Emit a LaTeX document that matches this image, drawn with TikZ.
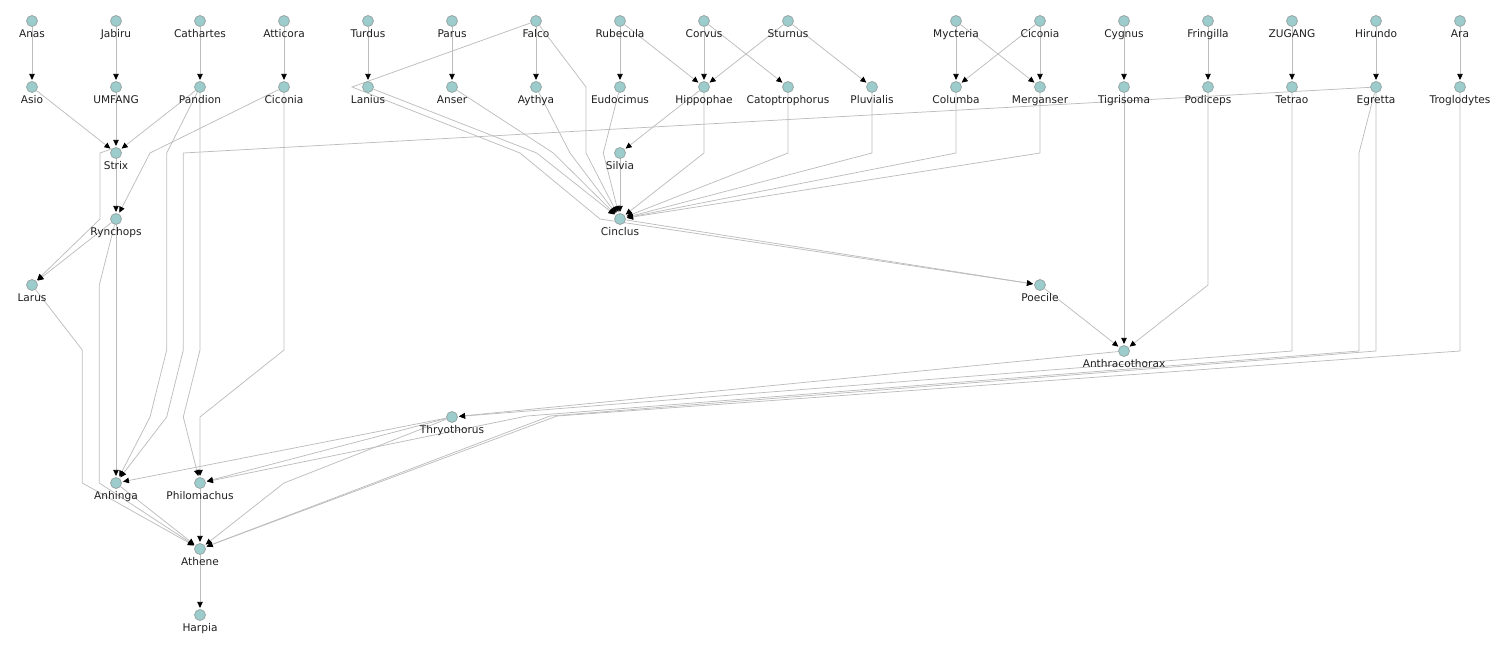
\documentclass[tikz,border=0pt]{standalone}
\usepackage{fontspec}
\setmainfont{DejaVu Sans}
\usetikzlibrary{arrows.meta}
\pgfdeclarelayer{bg}
\pgfsetlayers{bg,main}
\definecolor{nodefill}{HTML}{9CCCCC}
\definecolor{nodeline}{HTML}{9AA6A6}
\definecolor{edgecol}{HTML}{BDBDBD}
\tikzset{
  bird/.style={circle, fill=nodefill, draw=nodeline, line width=0.8pt, minimum size=11pt, inner sep=0pt},
  lbl/.style={font=\fontsize{10.6}{12}\selectfont, text=black!88, inner sep=0pt, anchor=base, label distance=10.3pt},
  link/.style={draw=edgecol, line width=0.75pt, -{Triangle[length=6pt,width=5.5pt,color=black]}, shorten >=1.2pt},
}
\newcommand{\bird}[4]{\node[bird, label={[lbl]below:#4}] (#1) at (#2,#3) {};}
\begin{document}
\begin{tikzpicture}[x=1pt,y=-1pt]
\useasboundingbox (0,0) rectangle (1501,647);
% row 0
\bird{anas}{32}{21}{Anas}
\bird{jabiru}{116}{21}{Jabiru}
\bird{cathartes}{200}{21}{Cathartes}
\bird{atticora}{284}{21}{Atticora}
\bird{turdus}{368}{21}{Turdus}
\bird{parus}{452}{21}{Parus}
\bird{falco}{536}{21}{Falco}
\bird{rubecula}{620}{21}{Rubecula}
\bird{corvus}{704}{21}{Corvus}
\bird{sturnus}{788}{21}{Sturnus}
\bird{mycteria}{956}{21}{Mycteria}
\bird{ciconiaB}{1040}{21}{Ciconia}
\bird{cygnus}{1124}{21}{Cygnus}
\bird{fringilla}{1208}{21}{Fringilla}
\bird{zugang}{1292}{21}{ZUGANG}
\bird{hirundo}{1376}{21}{Hirundo}
\bird{ara}{1460}{21}{Ara}
% row 1
\bird{asio}{32}{87}{Asio}
\bird{umfang}{116}{87}{UMFANG}
\bird{pandion}{200}{87}{Pandion}
\bird{ciconiaA}{284}{87}{Ciconia}
\bird{lanius}{368}{87}{Lanius}
\bird{anser}{452}{87}{Anser}
\bird{aythya}{536}{87}{Aythya}
\bird{eudocimus}{620}{87}{Eudocimus}
\bird{hippophae}{704}{87}{Hippophae}
\bird{catoptrophorus}{788}{87}{Catoptrophorus}
\bird{pluvialis}{872}{87}{Pluvialis}
\bird{columba}{956}{87}{Columba}
\bird{merganser}{1040}{87}{Merganser}
\bird{tigrisoma}{1124}{87}{Tigrisoma}
\bird{podiceps}{1208}{87}{Podiceps}
\bird{tetrao}{1292}{87}{Tetrao}
\bird{egretta}{1376}{87}{Egretta}
\bird{troglodytes}{1460}{87}{Troglodytes}
% lower rows
\bird{strix}{116}{153}{Strix}
\bird{silvia}{620}{153}{Silvia}
\bird{rynchops}{116}{219}{Rynchops}
\bird{cinclus}{620}{219}{Cinclus}
\bird{larus}{32}{285}{Larus}
\bird{poecile}{1040}{285}{Poecile}
\bird{anthracothorax}{1124}{351}{Anthracothorax}
\bird{thryothorus}{452}{417}{Thryothorus}
\bird{anhinga}{116}{483}{Anhinga}
\bird{philomachus}{200}{483}{Philomachus}
\bird{athene}{200}{549}{Athene}
\bird{harpia}{200}{615}{Harpia}

\begin{pgfonlayer}{bg}
% row 0 -> row 1
\draw[link] (anas) -- (asio);
\draw[link] (jabiru) -- (umfang);
\draw[link] (cathartes) -- (pandion);
\draw[link] (atticora) -- (ciconiaA);
\draw[link] (turdus) -- (lanius);
\draw[link] (parus) -- (anser);
\draw[link] (falco) -- (aythya);
\draw[link] (rubecula) -- (eudocimus);
\draw[link] (rubecula) -- (hippophae);
\draw[link] (corvus) -- (hippophae);
\draw[link] (sturnus) -- (hippophae);
\draw[link] (corvus) -- (catoptrophorus);
\draw[link] (sturnus) -- (pluvialis);
\draw[link] (mycteria) -- (columba);
\draw[link] (ciconiaB) -- (columba);
\draw[link] (mycteria) -- (merganser);
\draw[link] (ciconiaB) -- (merganser);
\draw[link] (cygnus) -- (tigrisoma);
\draw[link] (fringilla) -- (podiceps);
\draw[link] (zugang) -- (tetrao);
\draw[link] (hirundo) -- (egretta);
\draw[link] (ara) -- (troglodytes);
% long edges from Falco
\draw[link] (falco) -- (586,87) -- (586,153) -- (cinclus);
\draw[link] (falco) -- (352,87) -- (520,153) -- (600,219) -- (poecile);
% left part
\draw[link] (asio) -- (strix);
\draw[link] (umfang) -- (strix);
\draw[link] (pandion) -- (strix);
\draw[link] (pandion) -- (166.7,153) -- (166.7,350) -- (150,417) -- (anhinga);
\draw[link] (pandion) -- (200,350) -- (183.3,417) -- (philomachus);
\draw[link] (ciconiaA) -- (150,153) -- (rynchops);
\draw[link] (ciconiaA) -- (284,350) -- (200,417) -- (philomachus);
\draw[link] (strix) -- (rynchops);
\draw[link] (strix.north west) -- (100,153) -- (100,219) -- (larus);
\draw[link] (rynchops) -- (larus);
\draw[link] (rynchops) -- (anhinga);
\draw[link] (rynchops) -- (99.3,285) -- (99.3,483) -- (athene);
\draw[link] (larus) -- (82.3,350) -- (82.3,483) -- (athene);
% into Cinclus
\draw[link] (lanius) -- (536.7,153) -- (cinclus);
\draw[link] (anser) -- (553.3,153) -- (cinclus);
\draw[link] (aythya) -- (570,153) -- (cinclus);
\draw[link] (eudocimus) -- (603.3,153) -- (cinclus);
\draw[link] (hippophae) -- (silvia);
\draw[link] (silvia) -- (cinclus);
\draw[link] (hippophae) -- (704,153) -- (cinclus);
\draw[link] (catoptrophorus) -- (788,153) -- (cinclus);
\draw[link] (pluvialis) -- (872,153) -- (cinclus);
\draw[link] (columba) -- (956,153) -- (cinclus);
\draw[link] (merganser) -- (1040,153) -- (cinclus);
% right part
\draw[link] (cinclus) -- (poecile);
\draw[link] (poecile) -- (anthracothorax);
\draw[link] (tigrisoma) -- (anthracothorax);
\draw[link] (podiceps) -- (1208,285) -- (anthracothorax);
\draw[link] (anthracothorax) -- (thryothorus);
\draw[link] (tetrao) -- (1292,351) -- (thryothorus);
\draw[link] (egretta) -- (183.3,153) -- (183.3,350) -- (166.7,417) -- (anhinga);
\draw[link] (egretta) -- (1359,153) -- (1359,351) -- (527,416) -- (philomachus);
\draw[link] (egretta) -- (1376,351) -- (550,416) -- (athene);
\draw[link] (troglodytes) -- (1460,351) -- (557,416) -- (athene);
% bottom
\draw[link] (thryothorus) -- (anhinga);
\draw[link] (thryothorus) -- (philomachus);
\draw[link] (thryothorus) -- (284,483) -- (athene);
\draw[link] (anhinga) -- (athene);
\draw[link] (philomachus) -- (athene);
\draw[link] (athene) -- (harpia);
\end{pgfonlayer}
\end{tikzpicture}
\end{document}
